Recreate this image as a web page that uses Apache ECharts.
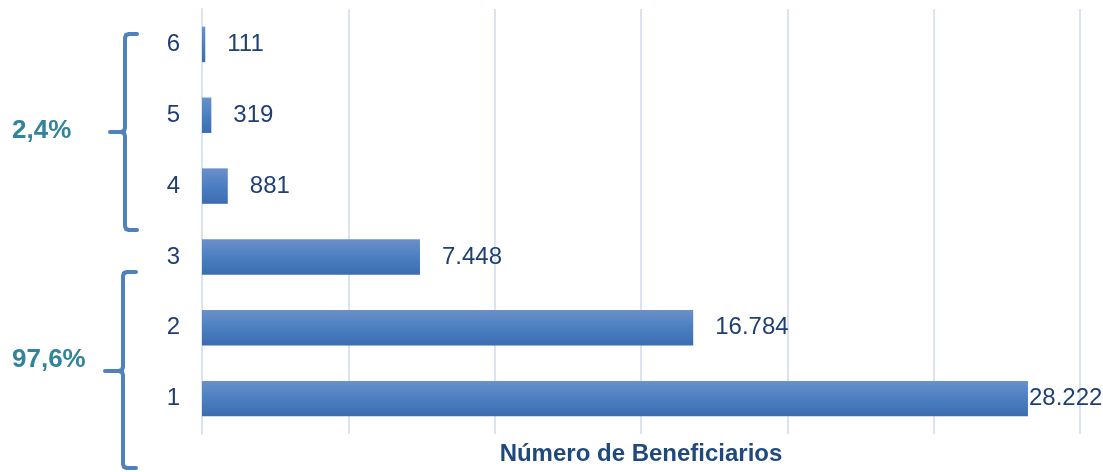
<!DOCTYPE html>
<html>
<head>
<meta charset="utf-8">
<script src="https://cdn.jsdelivr.net/npm/echarts@6/dist/echarts.min.js"></script>
<style>
html,body{margin:0;padding:0;background:#fff;}
#c{width:1103px;height:472px;}
</style>
</head>
<body>
<div id="c"></div>
<script>
var categories = ['1', '2', '3', '4', '5', '6'];
var values = [28222, 16784, 7448, 881, 319, 111];
var valueLabels = ['28.222', '16.784', '7.448', '881', '319', '111'];
var groupLabels = ['2,4%', '97,6%'];
var axisTitle = 'Número de Beneficiarios';

var chart = echarts.init(document.getElementById('c'), null, {renderer: 'canvas'});
var font = '"Liberation Sans", Arial, sans-serif';
var textColor = '#1f3f73';
var bracketColor = '#4f81bd';

var seriesData = values.map(function (v, i) {
  var d = {value: v};
  if (i === 0) d.label = {distance: 1};
  return d;
});

function bracket(top, mid, bottom, x, armX, tipX) {
  var r = 4;
  return [
    {
      type: 'polyline',
      shape: {points: [[armX, top], [x + r, top], [x + 1, top + 1], [x, top + r], [x, mid - r], [x - 1, mid - 1], [x - r, mid], [tipX, mid]]},
      style: {fill: null, stroke: bracketColor, lineWidth: 4, lineJoin: 'round', lineCap: 'round'}
    },
    {
      type: 'polyline',
      shape: {points: [[x - r, mid], [x - 1, mid + 1], [x, mid + r], [x, bottom - r], [x + 1, bottom - 1], [x + r, bottom], [armX, bottom]]},
      style: {fill: null, stroke: bracketColor, lineWidth: 4, lineJoin: 'round', lineCap: 'round'}
    }
  ];
}

var graphics = [].concat(
  bracket(34, 132, 230, 125, 137, 110),
  bracket(272, 371, 468, 123, 136, 105),
  [
    {
      type: 'text', left: 12, top: 118,
      style: {text: groupLabels[0], font: 'bold 26px ' + font, fill: '#31849b'}
    },
    {
      type: 'text', left: 12, top: 347,
      style: {text: groupLabels[1], font: 'bold 26px ' + font, fill: '#31849b'}
    }
  ]
);

chart.setOption({
  animation: false,
  grid: {left: 202, right: 23, top: 9, bottom: 38, containLabel: false, outerBoundsMode: 'none'},
  xAxis: {
    type: 'value',
    min: 0,
    max: 30000,
    interval: 5000,
    axisLabel: {show: false},
    axisLine: {show: false},
    axisTick: {show: false},
    splitLine: {show: true, lineStyle: {color: '#dae4f1', width: 2}},
    name: axisTitle,
    nameLocation: 'middle',
    nameGap: 8,
    nameTextStyle: {fontFamily: font, fontSize: 24, fontWeight: 'bold', color: '#1f497d'}
  },
  yAxis: {
    type: 'category',
    data: categories,
    axisLine: {show: true, lineStyle: {color: '#dae4f1', width: 2}},
    axisTick: {show: false},
    axisLabel: {fontFamily: font, fontSize: 24, color: textColor, margin: 22}
  },
  series: [{
    type: 'bar',
    data: seriesData,
    barCategoryGap: '50%',
    itemStyle: {
      color: {
        type: 'linear', x: 0, y: 0, x2: 0, y2: 1,
        colorStops: [
          {offset: 0, color: '#6b90c9'},
          {offset: 0.5, color: '#4b7fc2'},
          {offset: 1, color: '#3c6cb0'}
        ]
      }
    },
    label: {
      show: true,
      position: 'right',
      distance: 22,
      fontFamily: font,
      fontSize: 24,
      color: textColor,
      formatter: function (p) { return valueLabels[p.dataIndex]; }
    }
  }],
  graphic: graphics
});
</script>
</body>
</html>
